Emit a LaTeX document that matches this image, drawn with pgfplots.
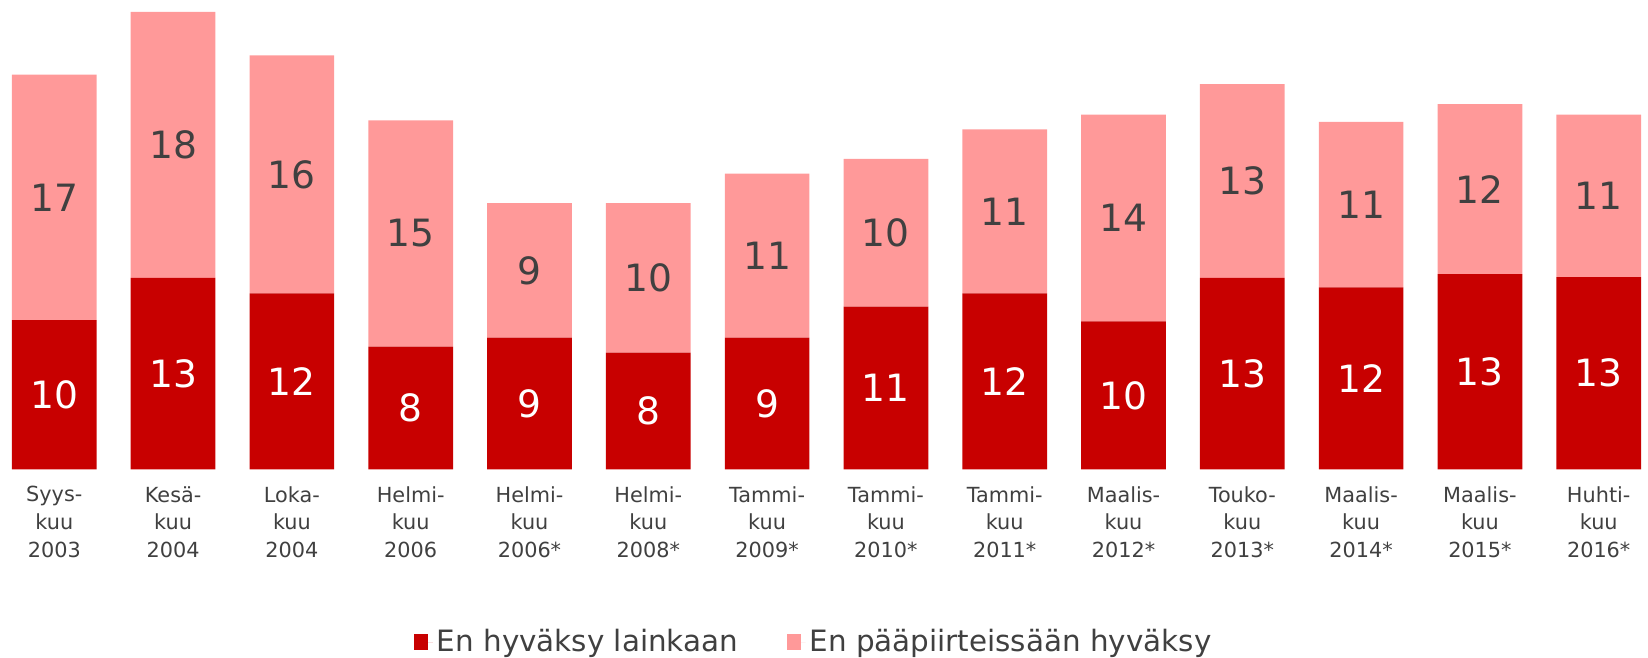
\documentclass[border=0pt]{standalone}
\usepackage{fontspec}
\setmainfont{DejaVu Sans}
\usepackage{pgfplots}
\pgfplotsset{compat=1.18}
\definecolor{darkred}{HTML}{C80000}
\definecolor{lightred}{HTML}{FF9999}
\definecolor{txt}{HTML}{404040}
\pgfplotsset{
  common/.style={
    at={(0pt,0pt)}, anchor=south west,
    scale only axis, width=824pt, height=234.65pt,
    xmin=-0.457, xmax=13.415, ymin=0, ymax=31.75,
  }
}
\begin{document}
\begin{tikzpicture}
\begin{axis}[common, name=ax,
  ybar stacked, bar width=42.35pt,
  axis line style={draw=none}, tick style={draw=none},
  ytick=\empty,
  xtick={0,...,13},
  xticklabels={{Syys-\\kuu\\2003},{Kesä-\\kuu\\2004},{Loka-\\kuu\\2004},{Helmi-\\kuu\\2006},{Helmi-\\kuu\\2006*},{Helmi-\\kuu\\2008*},{Tammi-\\kuu\\2009*},{Tammi-\\kuu\\2010*},{Tammi-\\kuu\\2011*},{Maalis-\\kuu\\2012*},{Touko-\\kuu\\2013*},{Maalis-\\kuu\\2014*},{Maalis-\\kuu\\2015*},{Huhti-\\kuu\\2016*}},
  xticklabel style={font=\fontsize{10.4}{13.9}\selectfont, text=txt, align=center, anchor=north, yshift=-5pt},
  legend columns=2,
  legend style={at={(axis description cs:0.2476,-0.368)}, anchor=west, draw=none, fill=none,
    font=\fontsize{14.7}{17}\selectfont, text=txt,
    /tikz/every even column/.append style={column sep=22.5pt}},
  legend cell align=left,
  legend image code/.code={\fill[#1] (0pt,-4.2pt) rectangle (6.8pt,4.2pt); \path (0pt,0pt) -- (9.2pt,0pt);},
]
\addplot[fill=darkred, draw=none] coordinates {(0,10.1) (1,12.95) (2,11.9) (3,8.3) (4,8.9) (5,7.9) (6,8.9) (7,11.0) (8,11.9) (9,10.0) (10,12.95) (11,12.3) (12,13.2) (13,13.0)};
\addlegendentry{En hyväksy lainkaan}
\addplot[fill=lightred, draw=none] coordinates {(0,16.6) (1,18.0) (2,16.1) (3,15.3) (4,9.1) (5,10.1) (6,11.1) (7,10.0) (8,11.1) (9,14.0) (10,13.1) (11,11.2) (12,11.5) (13,11.0)};
\addlegendentry{En pääpiirteissään hyväksy}
\end{axis}
\begin{axis}[common, hide axis, clip=false]
\addplot[draw=none, mark=none, nodes near coords, point meta=explicit symbolic,
  every node near coord/.append style={anchor=center, text=white, font=\fontsize{18.8}{21}\selectfont}]
  coordinates {(0,5.05)[10] (1,6.475)[13] (2,5.95)[12] (3,4.15)[8] (4,4.45)[9] (5,3.95)[8] (6,4.45)[9] (7,5.5)[11] (8,5.95)[12] (9,5.0)[10] (10,6.475)[13] (11,6.15)[12] (12,6.6)[13] (13,6.5)[13]};
\addplot[draw=none, mark=none, nodes near coords, point meta=explicit symbolic,
  every node near coord/.append style={anchor=center, text=txt, font=\fontsize{18.8}{21}\selectfont}]
  coordinates {(0,18.4)[17] (1,21.95)[18] (2,19.95)[16] (3,15.95)[15] (4,13.45)[9] (5,12.95)[10] (6,14.45)[11] (7,16.0)[10] (8,17.45)[11] (9,17.0)[14] (10,19.5)[13] (11,17.9)[11] (12,18.95)[12] (13,18.5)[11]};
\end{axis}
\pgfresetboundingbox
\path[use as bounding box] (ax.south west) ++(0pt,-94.35pt) rectangle ++(824pt,329pt);
\end{tikzpicture}
\end{document}
